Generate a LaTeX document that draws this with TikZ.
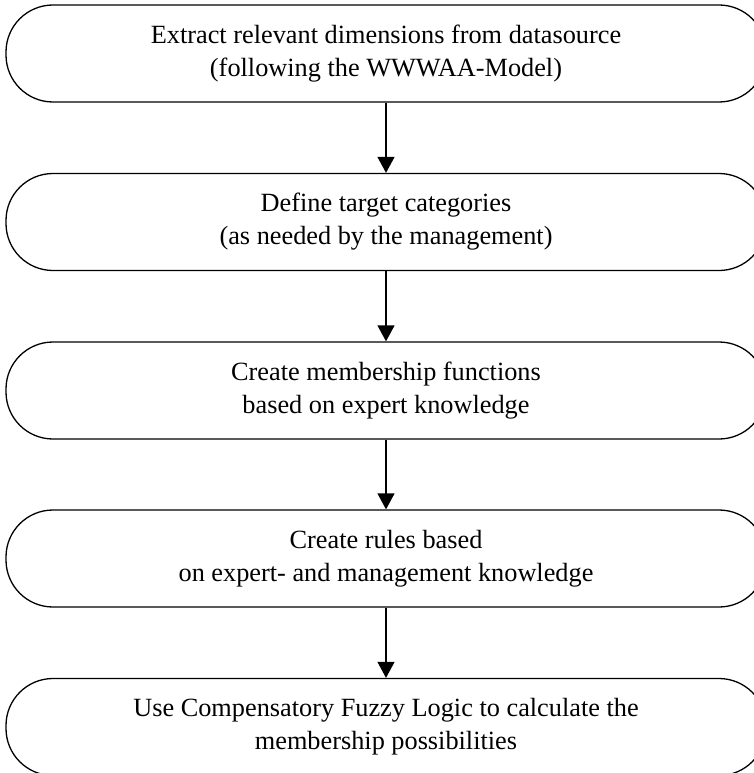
\documentclass[tikz,border=0pt]{standalone}
\usepackage{fontspec}
\setmainfont{Liberation Serif}
\usetikzlibrary{arrows.meta}
\begin{document}
\begin{tikzpicture}[x=1pt,y=-1pt,
  stepbox/.style={draw=black, line width=1.3pt, rounded corners=47pt,
    minimum width=760pt, minimum height=97pt, align=center,
    font=\fontsize{26.3}{33}\selectfont, inner sep=0pt},
  flow/.style={-{Triangle[width=17pt,length=16pt]}, line width=1.3pt}]
\useasboundingbox (0,0) rectangle (754,773);
\node[stepbox] (s1) at (386,53.5) {Extract relevant dimensions from datasource\\(following the WWWAA-Model)};
\node[stepbox] (s2) at (386,222) {Define target categories\\(as needed by the management)};
\node[stepbox] (s3) at (386,390.5) {Create membership functions\\based on expert knowledge};
\node[stepbox] (s4) at (386,558.5) {Create rules based\\on expert- and management knowledge};
\node[stepbox] (s5) at (386,727) {Use Compensatory Fuzzy Logic to calculate the\\membership possibilities};
\draw[flow] (s1) -- (s2);
\draw[flow] (s2) -- (s3);
\draw[flow] (s3) -- (s4);
\draw[flow] (s4) -- (s5);
\end{tikzpicture}
\end{document}
